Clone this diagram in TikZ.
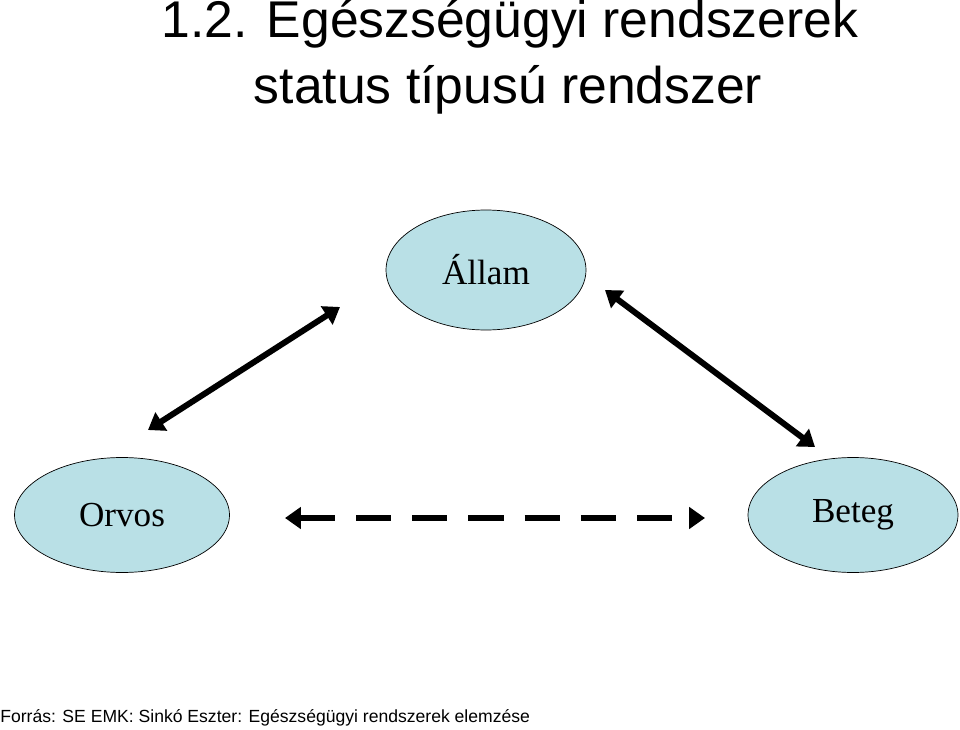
\documentclass[tikz,border=0pt]{standalone}
\usepackage{fontspec}
\setmainfont{Liberation Serif}
\newfontfamily\titlefont{Liberation Sans}
\usetikzlibrary{shapes.geometric,arrows.meta}
\definecolor{partfill}{RGB}{185,224,230}

\begin{document}
\begin{tikzpicture}[
        x=0.02cm, y=-0.02cm,
        party/.style={
            ellipse,
            draw=black,
            fill=partfill,
            font=\fontsize{20}{23}\selectfont
        },
        link/.style={
            line width=3.4pt,
            {Triangle[length=9pt,width=12pt]}-{Triangle[length=9pt,width=12pt]}
        },
    ]
    \useasboundingbox (0,0) rectangle (960,730);

    \node[font=\titlefont\fontsize{29.4}{34}\selectfont] (title1) at (510,24) {1.2. Egészségügyi rendszerek};
    \node[font=\titlefont\fontsize{29.4}{34}\selectfont] (title2) at (508,90) {status típusú rendszer};

    \node[party, minimum width=4cm, minimum height=2.4cm] (allam) at (486,270) {Állam};
    \node[party, minimum width=4.3cm, minimum height=2.3cm] (orvos) at (122,515) {Orvos};
    \node[party, minimum width=4.2cm, minimum height=2.3cm] (beteg) at (853,515) {Beteg};

    \coordinate (a1) at (148,430);
    \coordinate (a2) at (340,307);
    \coordinate (b1) at (605,290);
    \coordinate (b2) at (815,447);
    \coordinate (c1) at (285,518);
    \coordinate (c2) at (705,518);
    \draw[link] (a1) -- (a2);
    \draw[link] (b1) -- (b2);
    \draw[link, dash pattern=on 20pt off 12pt] (c1) -- (c2);

    \node[font=\titlefont\fontsize{10}{12}\selectfont, anchor=west, inner sep=0pt] (forras) at (0,718) {Forrás: SE EMK: Sinkó Eszter: Egészségügyi rendszerek elemzése};
\end{tikzpicture}
\end{document}
